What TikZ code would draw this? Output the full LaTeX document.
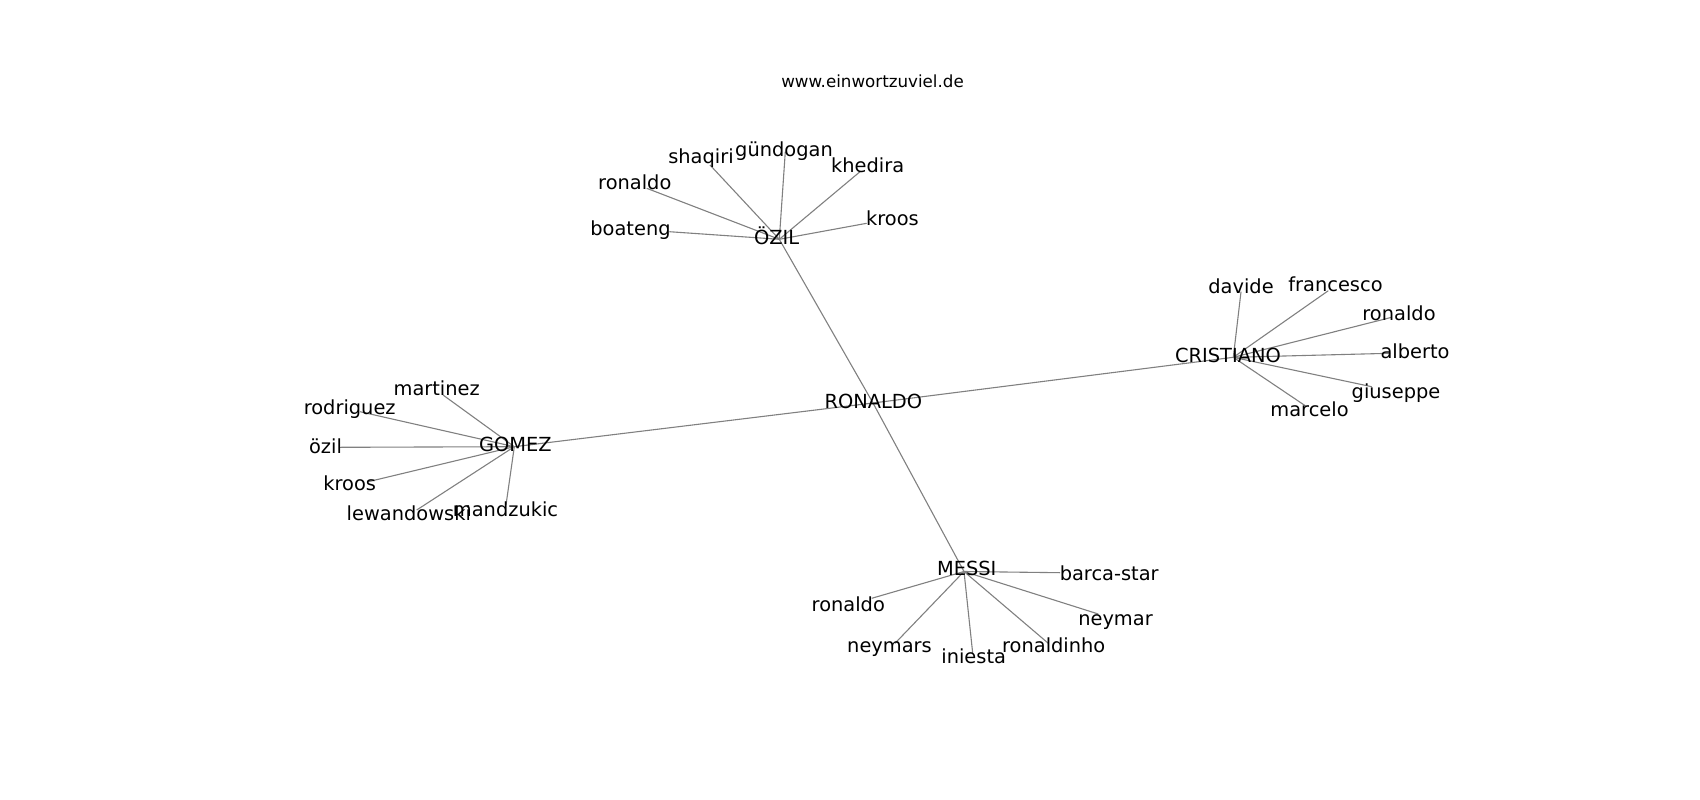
\documentclass[tikz,border=0pt]{standalone}
\usepackage{fontspec}
\setmainfont{DejaVu Sans}
\begin{document}
\begin{tikzpicture}[x=1pt,y=-1pt,
  lbl/.style={anchor=base,inner sep=0pt,font=\fontsize{19.4}{23}\selectfont},
  ttl/.style={anchor=base,inner sep=0pt,font=\fontsize{16.7}{20}\selectfont},
  edge/.style={draw=gray,line width=1.1pt}]
\useasboundingbox (0,0) rectangle (1700,800);
% hub points
\coordinate (R) at (873,403);
\coordinate (Oz) at (779.3,239.3);
\coordinate (Cr) at (1233.3,357.3);
\coordinate (Go) at (514.3,446.7);
\coordinate (Me) at (964,571.5);
% leaf points
\coordinate (oz1) at (710,165);
\coordinate (oz2) at (785.3,151.7);
\coordinate (oz3) at (860,171.7);
\coordinate (oz4) at (646.7,188.3);
\coordinate (oz5) at (866.7,223.3);
\coordinate (oz6) at (669.3,231.7);
\coordinate (cr1) at (1241,291.7);
\coordinate (cr2) at (1328.3,290.7);
\coordinate (cr3) at (1391.7,317.3);
\coordinate (cr4) at (1390,353.3);
\coordinate (cr5) at (1371.7,386.7);
\coordinate (cr6) at (1306.7,406.7);
\coordinate (go1) at (443,395);
\coordinate (go2) at (360,411.7);
\coordinate (go3) at (340,447.3);
\coordinate (go4) at (368.3,481.7);
\coordinate (go5) at (416.7,510);
\coordinate (go6) at (506,505);
\coordinate (me1) at (1060,572.7);
\coordinate (me2) at (871.7,598.3);
\coordinate (me3) at (1098.3,614);
\coordinate (me4) at (895,643.3);
\coordinate (me5) at (972.7,653.3);
\coordinate (me6) at (1048.3,643.3);
% edges
\draw[edge] (R) -- (Oz);
\draw[edge] (R) -- (Cr);
\draw[edge] (R) -- (Go);
\draw[edge] (R) -- (Me);
\foreach \i in {1,...,6} {
  \draw[edge] (Oz) -- (oz\i);
  \draw[edge] (Cr) -- (cr\i);
  \draw[edge] (Go) -- (go\i);
  \draw[edge] (Me) -- (me\i);
}
% labels
\node[ttl] (title) at (872.5,88) {www.einwortzuviel.de};
\node[lbl] (lR) at (873.3,408.3) {RONALDO};
\node[lbl] (lOz) at (776.7,244) {ÖZIL};
\node[lbl] (lCr) at (1228,362.7) {CRISTIANO};
\node[lbl] (lGo) at (515.3,451.7) {GOMEZ};
\node[lbl] (lMe) at (966.7,575) {MESSI};
\node[lbl] (loz1) at (701,163.3) {shaqiri};
\node[lbl] (loz2) at (784,156) {gündogan};
\node[lbl] (loz3) at (867.7,172.3) {khedira};
\node[lbl] (loz4) at (634.8,189) {ronaldo};
\node[lbl] (loz5) at (892.5,225.7) {kroos};
\node[lbl] (loz6) at (630.5,235) {boateng};
\node[lbl] (lcr1) at (1241,293.5) {davide};
\node[lbl] (lcr2) at (1335.5,291.5) {francesco};
\node[lbl] (lcr3) at (1399,320) {ronaldo};
\node[lbl] (lcr4) at (1415,358.3) {alberto};
\node[lbl] (lcr5) at (1396,398.3) {giuseppe};
\node[lbl] (lcr6) at (1309.5,416.7) {marcelo};
\node[lbl] (lgo1) at (436.7,395) {martinez};
\node[lbl] (lgo2) at (349.7,414) {rodriguez};
\node[lbl] (lgo3) at (325.5,453.3) {özil};
\node[lbl] (lgo4) at (349.7,490.7) {kroos};
\node[lbl] (lgo5) at (408.8,520) {lewandowski};
\node[lbl] (lgo6) at (505.5,516.7) {mandzukic};
\node[lbl] (lme1) at (1109.2,580) {barca-star};
\node[lbl] (lme2) at (848.3,611.7) {ronaldo};
\node[lbl] (lme3) at (1115.5,625) {neymar};
\node[lbl] (lme4) at (889.5,652.7) {neymars};
\node[lbl] (lme5) at (973.7,663.3) {iniesta};
\node[lbl] (lme6) at (1053.7,652.7) {ronaldinho};
\end{tikzpicture}
\end{document}
